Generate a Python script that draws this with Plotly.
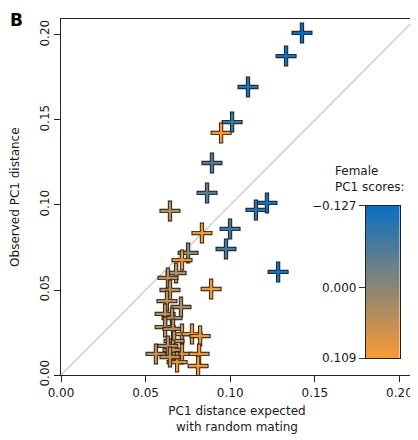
import numpy as np
import plotly.graph_objects as go

# Data: PC1 distance expected with random mating (x), observed (y), female PC1 score (colour)
expected = [0.1424, 0.1330, 0.1105, 0.1011, 0.0946, 0.0892, 0.0863, 0.1217, 0.1152, 0.0999,
            0.0975, 0.1283, 0.0833, 0.0887, 0.0644, 0.0751, 0.0715,
            0.0680, 0.0632, 0.0644, 0.0626, 0.0709, 0.0615, 0.0656, 0.0615, 0.0662, 0.0715,
            0.0774, 0.0822, 0.0668, 0.0561, 0.0662, 0.0715, 0.0816, 0.0686, 0.0810, 0.0632, 0.0644]
observed = [0.2012, 0.1876, 0.1694, 0.1488, 0.1424, 0.1247, 0.1071, 0.1012, 0.0971, 0.0859,
            0.0741, 0.0606, 0.0835, 0.0506, 0.0965, 0.0718, 0.0676,
            0.0600, 0.0571, 0.0500, 0.0435, 0.0400, 0.0359, 0.0335, 0.0282, 0.0271, 0.0241,
            0.0241, 0.0229, 0.0200, 0.0124, 0.0147, 0.0124, 0.0124, 0.0076, 0.0053, 0.0171, 0.0106]
female_pc1 = [-0.125, -0.120, -0.105, -0.080, 0.105, -0.060, -0.050, -0.110, -0.100, -0.075,
              -0.070, -0.115, 0.100, 0.105, 0.045, 0.005, 0.100,
              0.045, 0.050, 0.050, 0.050, 0.030, 0.050, 0.045, 0.055, 0.040, 0.070,
              0.095, 0.100, 0.060, 0.050, 0.060, 0.070, 0.100, 0.090, 0.105, 0.050, 0.060]

score_min, score_max = -0.127, 0.109
cbar_tickvals = [-0.127, 0.0, 0.109]
cbar_ticktext = ["\u22120.127", "0.000", "0.109"]
x_ticks = [0.00, 0.05, 0.10, 0.15, 0.20]
y_ticks = [0.00, 0.05, 0.10, 0.15, 0.20]
axis_max_x = 0.208
axis_max_y = 0.2094

BLUE = "#0b6fc0"
ORANGE = "#f99a33"
cscale = [[0, BLUE], [1, ORANGE]]
FONT = "DejaVu Sans"

fig = go.Figure()

# diagonal y = x reference line
diag = [0, max(axis_max_x, axis_max_y)]
fig.add_trace(go.Scatter(x=diag, y=diag, mode="lines",
                         line=dict(color="#c4c4c4", width=1.2),
                         hoverinfo="skip", showlegend=False))

# crosses: dark outline then coloured fill, point by point
for xv, yv, sv in zip(expected, observed, female_pc1):
    fig.add_trace(go.Scatter(
        x=[xv], y=[yv], mode="markers", showlegend=False, hoverinfo="skip",
        marker=dict(symbol="cross-thin", size=15,
                    line=dict(width=4.3, color="#1c1c1c"))))
    fig.add_trace(go.Scatter(
        x=[xv], y=[yv], mode="markers", showlegend=False,
        marker=dict(symbol="cross-thin", size=13.6,
                    line=dict(width=2.5, color=[sv], colorscale=cscale,
                              cmin=score_min, cmax=score_max))))

# colour bar drawn as a heatmap on its own axes
grad = np.linspace(score_min, score_max, 200)
fig.add_trace(go.Heatmap(x=[0], y=grad, z=[[g] for g in grad],
                         colorscale=cscale, zmin=score_min, zmax=score_max,
                         showscale=False, hoverinfo="skip",
                         xaxis="x2", yaxis="y2"))

fig.update_layout(
    width=410, height=432,
    margin=dict(l=53, r=5, t=11, b=65, autoexpand=False),
    paper_bgcolor="white", plot_bgcolor="white",
    font=dict(family=FONT, size=12, color="#1a1a1a"),
    xaxis=dict(range=[0, axis_max_x], tickvals=x_ticks, tickformat=".2f",
               automargin=False,
               ticks="outside", ticklen=6, tickwidth=1, tickcolor="#222",
               showline=True, linecolor="#222", linewidth=1.2, mirror=True,
               showgrid=False, zeroline=False,
               title=dict(text="PC1 distance expected<br>with random mating",
                          standoff=8, font=dict(size=12))),
    yaxis=dict(range=[0, axis_max_y], tickvals=y_ticks, tickformat=".2f",
               tickangle=-90, automargin=False,
               ticks="outside", ticklen=6, tickwidth=1, tickcolor="#222",
               showline=True, linecolor="#222", linewidth=1.2, mirror=True,
               showgrid=False, zeroline=False),
    xaxis2=dict(domain=[0.866, 0.962], range=[-0.5, 0.5], anchor="y2",
                automargin=False,
                showticklabels=False, ticks="", showgrid=False, zeroline=False,
                showline=True, linecolor="#222", linewidth=1, mirror=True),
    yaxis2=dict(domain=[0.047, 0.475], range=[score_max, score_min], anchor="x2",
                automargin=False,
                tickvals=cbar_tickvals, ticktext=cbar_ticktext,
                ticks="outside", ticklen=6, tickcolor="#333",
                showgrid=False, zeroline=False,
                showline=True, linecolor="#222", linewidth=1, mirror=True),
    annotations=[
        dict(text="<b>B</b>", xref="paper", yref="paper", x=-0.15, y=1.032,
             xanchor="left", yanchor="top", showarrow=False,
             font=dict(size=17, family=FONT, color="black")),
        dict(text="Observed PC1 distance", xref="paper", yref="paper",
             x=-0.131, y=0.5, xanchor="center", yanchor="middle",
             textangle=-90, showarrow=False, font=dict(size=12, family=FONT)),
        dict(text="Female<br>PC1 scores:", xref="paper", yref="paper",
             x=0.773, y=0.598, xanchor="left", yanchor="top", align="left",
             showarrow=False, font=dict(size=12, family=FONT)),
    ],
)

fig.write_html("out.html")
